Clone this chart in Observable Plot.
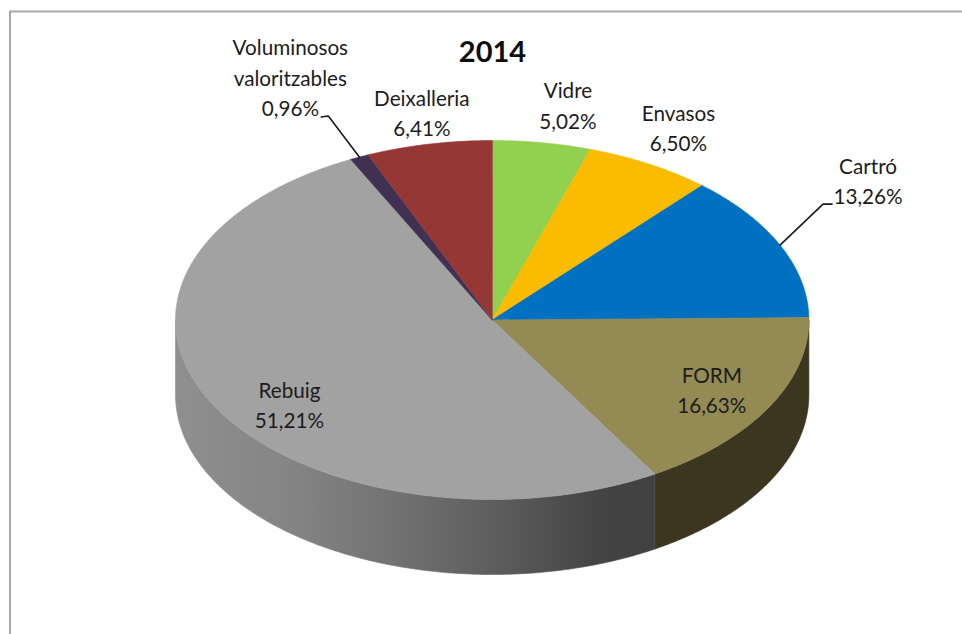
<!DOCTYPE html>
<html>
<head>
<meta charset="utf-8">
<script src="https://cdn.jsdelivr.net/npm/d3@7"></script>
<script src="https://cdn.jsdelivr.net/npm/@observablehq/plot@0.6"></script>
<style>
  html, body { margin: 0; padding: 0; background: #fff; }
  svg { display: block; }
</style>
</head>
<body>
<div id="chart"></div>
<script>
// Waste fractions for 2014, clockwise from twelve o'clock.
const categories = ["Vidre", "Envasos", "Cartró", "FORM", "Rebuig", "Voluminosos\nvaloritzables", "Deixalleria"];
const shares = [5.02, 6.50, 13.26, 16.63, 51.21, 0.96, 6.41];
const shareLabels = ["5,02%", "6,50%", "13,26%", "16,63%", "51,21%", "0,96%", "6,41%"];
const topColors = ["#92d050", "#fbbc00", "#0070c0", "#938a54", "#a2a2a2", "#403152", "#953735"];
const sideColors = ["#4d7a20", "#8a6800", "#003c68", "#3c3620", "url(#rebuig-side)", "#221a2c", "#501d1c"];
const chartTitle = "2014";

// Label blocks, offset from the point where each slice's middle meets the rim.
const labelOffsets = [[26, -39], [29, -38], [88, -66], [-57, -19], [75, -3], [-69, -81], [-7, -33]];
// Leader lines, as elbow and end offsets from the same rim point.
const leaderOffsets = {2: [[43, -41], [52, -41]], 5: [[-31, -41], [-38, -40]]};

// Projection of the tilted disc on the page.
const cx = 491.7, cy = 319.5, rx = 316.7, ry = 179.5, depth = 75;
const rim = (a, drop = 0) => ({x: cx + rx * Math.sin(a), y: cy - ry * Math.cos(a) + drop});
const arc = (a0, a1, drop = 0) => {
  const n = Math.max(2, Math.ceil((a1 - a0) / 0.008));
  return d3.range(n + 1).map((i) => rim(a0 + (a1 - a0) * i / n, drop));
};

const slices = d3.pie().sort(null).value((d) => d)(shares).map((s, i) => ({
  a0: s.startAngle, a1: s.endAngle, mid: (s.startAngle + s.endAngle) / 2, i
}));

// Only the front half of the cylinder wall can be seen.
const walls = slices.map((s) => {
  const a0 = Math.max(s.a0, Math.PI / 2), a1 = Math.min(s.a1, 3 * Math.PI / 2);
  return a1 > a0 ? {i: s.i, points: [...arc(a0, a1), ...arc(a0, a1, depth).reverse()]} : null;
}).filter(Boolean);

const faces = slices.map((s) => ({i: s.i, points: [{x: cx, y: cy}, ...arc(s.a0, s.a1)]}));

const labels = slices.map((s) => {
  const p = rim(s.mid), [dx, dy] = labelOffsets[s.i];
  return {x: p.x + dx, y: p.y + dy, text: `${categories[s.i]}\n${shareLabels[s.i]}`};
});

const leaders = Object.entries(leaderOffsets).map(([i, offsets]) => {
  const p = rim(slices[+i].mid);
  return [p, ...offsets.map(([dx, dy]) => ({x: p.x + dx, y: p.y + dy}))];
});

// Horizontal shading of the large grey wall.
const rebuigGradient = () => {
  const defs = d3.create("svg:defs");
  const g = defs.append("linearGradient").attr("id", "rebuig-side")
    .attr("x1", 0).attr("x2", 1).attr("y1", 0).attr("y2", 0);
  [[0, "#8f8f8f"], [0.25, "#848484"], [0.5, "#6e6e6e"], [0.68, "#5c5c5c"], [0.88, "#444444"], [1, "#414141"]]
    .forEach(([o, c]) => g.append("stop").attr("offset", o).attr("stop-color", c));
  return defs.node();
};

const shape = (points, color) => Plot.line(points, {
  x: "x", y: "y", fill: color, stroke: color, strokeWidth: 0.6, curve: "linear-closed"
});

const fontFamily = "Lato, 'Open Sans', sans-serif";

document.getElementById("chart").append(Plot.plot({
  width: 962,
  height: 634,
  margin: 0,
  style: {background: "#fff", fontFamily},
  x: {domain: [0, 962], range: [0, 962], axis: null},
  y: {domain: [0, 634], range: [0, 634], axis: null},
  marks: [
    rebuigGradient,
    // Chart frame, cut by the page on its right and bottom sides.
    Plot.ruleX([9.5], {y1: 11, y2: 634, stroke: "#a8a8a8", strokeWidth: 2}),
    Plot.ruleY([11], {x1: 9, x2: 962, stroke: "#a8a8a8", strokeWidth: 2}),
    ...walls.map((w) => shape(w.points, sideColors[w.i])),
    ...faces.map((f) => shape(f.points, topColors[f.i])),
    ...leaders.map((l) => Plot.line(l, {x: "x", y: "y", stroke: "#1a1a1a", strokeWidth: 1.6})),
    Plot.text(labels, {
      x: "x", y: "y", text: "text", lineAnchor: "middle", lineHeight: 1.47,
      fontSize: 20.7, fill: "#1c1c1c", fontFamily
    }),
    Plot.text([chartTitle], {
      x: () => 492, y: () => 52, text: (d) => d, fontSize: 29, fontWeight: "bold",
      fill: "#0d0d0d", fontFamily
    })
  ]
}));
</script>
</body>
</html>
